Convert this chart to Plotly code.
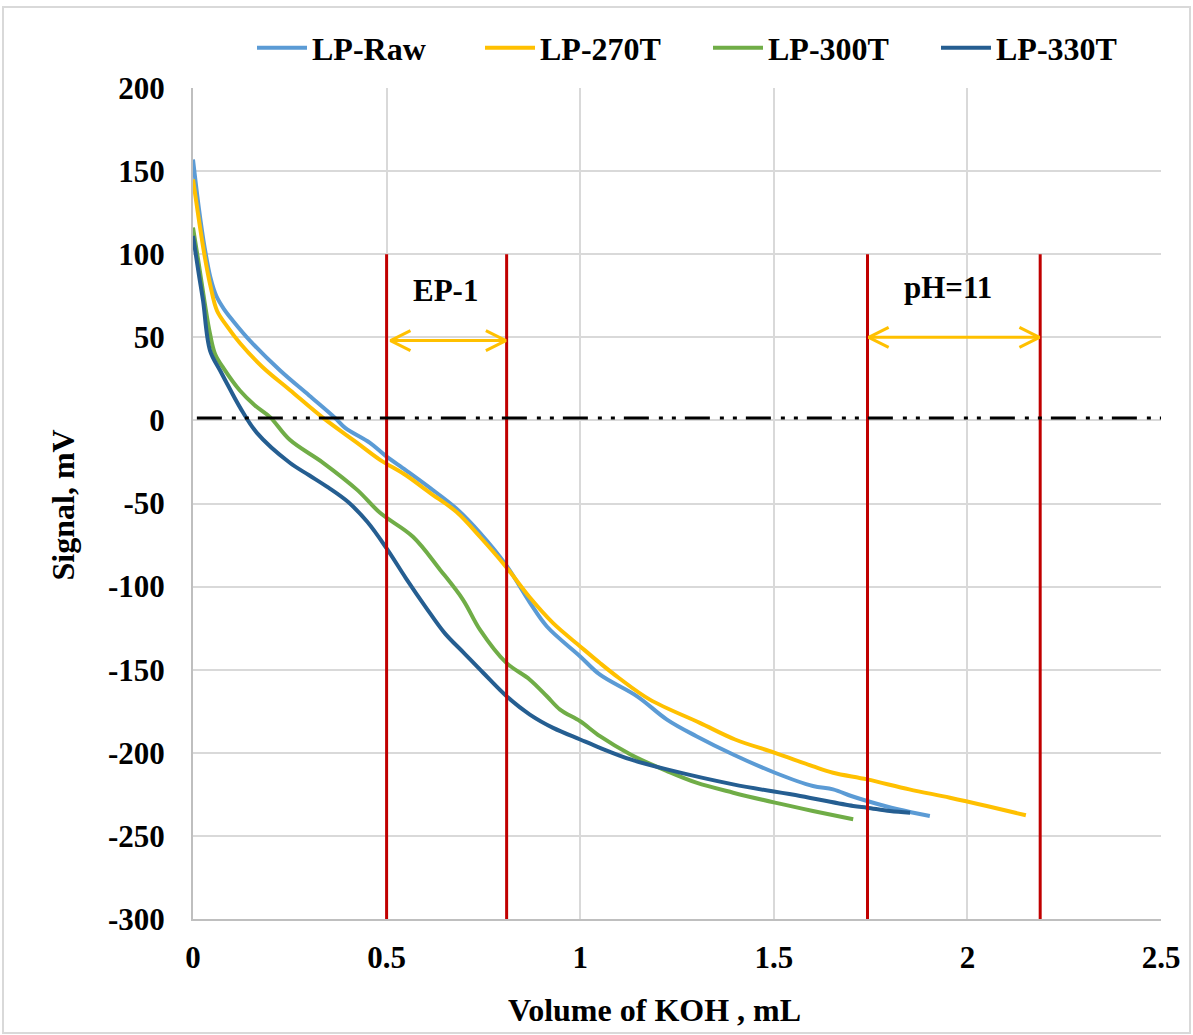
import plotly.graph_objects as go

# ---------------- data ----------------
raw_x = [0, 0.015, 0.03, 0.045, 0.06, 0.08, 0.103, 0.147, 0.225, 0.30, 0.367, 0.393, 0.457, 0.496,
         0.55, 0.612, 0.68, 0.741, 0.808, 0.870, 0.914, 1.0, 1.051, 1.147, 1.224, 1.30, 1.395, 1.503,
         1.601, 1.653, 1.70, 1.741, 1.82, 1.903]
raw_y = [157, 128, 104, 86, 75, 67, 60, 48, 30, 15, 1.5, -4.5, -13.5, -21,
         -30, -40.6, -53, -67.6, -86.8, -109.6, -124, -142, -153, -166, -180, -190, -201, -212,
         -220, -222, -226, -229, -234, -238]

t270_x = [0, 0.015, 0.03, 0.045, 0.062, 0.09, 0.121, 0.18, 0.25, 0.336, 0.424, 0.483, 0.55, 0.612,
          0.68, 0.741, 0.808, 0.870, 0.93, 1.0, 1.051, 1.10, 1.18, 1.309, 1.40, 1.503, 1.60, 1.653,
          1.741, 1.85, 1.955, 2.05, 2.151]
t270_y = [145, 121, 99, 81, 66, 56, 46.6, 32, 18.3, 1.5, -13.5, -23.7, -33, -43.6,
          -55, -70, -88, -106.6, -122, -136, -146, -155, -168, -182, -192, -200, -208, -212,
          -216, -222, -227, -232, -237.6]

t300_x = [0, 0.015, 0.03, 0.044, 0.057, 0.08, 0.121, 0.16, 0.199, 0.25, 0.336, 0.424, 0.483, 0.568,
          0.638, 0.697, 0.741, 0.808, 0.870, 0.914, 0.948, 1.0, 1.051, 1.13, 1.224, 1.30, 1.395,
          1.503, 1.601, 1.705]
t300_y = [116, 94, 71, 52, 40, 31, 18, 9, 2, -11.7, -25.5, -41.8, -55.6, -70,
          -89.8, -107.8, -125.9, -145.6, -156, -166, -174, -181, -190, -201, -211, -218, -224,
          -230, -235, -240]

t330_x = [0, 0.015, 0.026, 0.044, 0.07, 0.095, 0.121, 0.165, 0.25, 0.30, 0.35, 0.40, 0.45, 0.50,
          0.55, 0.60, 0.65, 0.70, 0.75, 0.81, 0.87, 0.93, 1.0, 1.051, 1.13, 1.224, 1.395, 1.568,
          1.705, 1.741, 1.80, 1.852]
t330_y = [111, 88, 72, 42, 30, 19, 8, -7.5, -25.5, -33, -40.5, -49, -61, -77,
          -95, -112, -128, -140, -152, -166, -177, -185, -192, -197, -204, -210, -219, -226,
          -232, -233, -235, -236]

series_names = ["LP-Raw", "LP-270T", "LP-300T", "LP-330T"]
series_x = [raw_x, t270_x, t300_x, t330_x]
series_y = [raw_y, t270_y, t300_y, t330_y]
series_colors = ["#5B9BD5", "#FFC000", "#70AD47", "#255E91"]

marker_lines_x = [0.5, 0.81, 1.742, 2.188]   # red vertical lines
marker_line_top = 100
baseline_y = 1.5                              # dash-dot reference line

arrow_ranges = [(0.51, 0.808), (1.745, 2.186)]
arrow_y = [48, 50]
arrow_labels = ["EP-1", "pH=11"]
label_x = [0.653, 1.95]
label_y = [78, 80]

x_ticks = [0, 0.5, 1, 1.5, 2, 2.5]
y_ticks = [200, 150, 100, 50, 0, -50, -100, -150, -200, -250, -300]
x_range = [0, 2.5]
y_range = [-300, 200]

# ---------------- figure ----------------
FONT = "Liberation Serif"
BOLD = dict(family=FONT, size=32, color="black", weight="bold")
TICK = dict(family=FONT, size=31, color="black", weight="bold")
fig = go.Figure()

for name, xs, ys, col in zip(series_names, series_x, series_y, series_colors):
    fig.add_trace(go.Scatter(x=xs, y=ys, mode="lines", name=name,
                             line=dict(color=col, width=4, shape="spline", smoothing=1.0)))

# red vertical lines
for mx in marker_lines_x:
    fig.add_trace(go.Scatter(x=[mx, mx], y=[marker_line_top, y_range[0]], mode="lines",
                             line=dict(color="#C00000", width=3), showlegend=False, hoverinfo="skip"))

# dash-dot baseline
fig.add_trace(go.Scatter(x=[0.01, x_range[1]], y=[baseline_y, baseline_y], mode="lines",
                         line=dict(color="black", width=3, dash="25px,10px,4px,9px,4px,9px"),
                         showlegend=False, hoverinfo="skip"))

# double-headed arrows (open chevron heads)
plot_w_px, plot_h_px = 968, 831
head_dx = 20 * (x_range[1] - x_range[0]) / plot_w_px
head_dy = 10 * (y_range[1] - y_range[0]) / plot_h_px
for (xa, xb), ay in zip(arrow_ranges, arrow_y):
    fig.add_trace(go.Scatter(x=[xa, xb], y=[ay, ay], mode="lines",
                             line=dict(color="#FFC000", width=3), showlegend=False, hoverinfo="skip"))
    fig.add_trace(go.Scatter(x=[xa + head_dx, xa, xa + head_dx], y=[ay + head_dy, ay, ay - head_dy],
                             mode="lines", line=dict(color="#FFC000", width=3),
                             showlegend=False, hoverinfo="skip"))
    fig.add_trace(go.Scatter(x=[xb - head_dx, xb, xb - head_dx], y=[ay + head_dy, ay, ay - head_dy],
                             mode="lines", line=dict(color="#FFC000", width=3),
                             showlegend=False, hoverinfo="skip"))

for txt, lx, ly in zip(arrow_labels, label_x, label_y):
    fig.add_annotation(x=lx, y=ly, text=txt, showarrow=False, font=TICK)

# axis titles as annotations
fig.add_annotation(xref="paper", yref="paper", x=0.477, y=-0.1095, text="Volume of KOH , mL",
                   showarrow=False, font=BOLD, yanchor="middle")
fig.add_annotation(xref="paper", yref="paper", x=-0.134, y=0.498, text="Signal, mV",
                   textangle=-90, showarrow=False, font=BOLD,
                   xanchor="center", yanchor="middle")

# outer chart border
fig.add_shape(type="rect", xref="paper", yref="paper",
              x0=(3 - 193) / 968, x1=(1190 - 193) / 968,
              y0=(919 - 1033) / 831, y1=(919 - 7) / 831,
              line=dict(color="#D9D9D9", width=2), layer="below")

fig.update_layout(
    width=1193, height=1035,
    margin=dict(l=193, r=32, t=88, b=116, autoexpand=False),
    paper_bgcolor="white", plot_bgcolor="white",
    font=BOLD,
    showlegend=True,
    legend=dict(orientation="h", x=(252 - 193) / 968, xanchor="left",
                y=(919 - 48) / 831, yanchor="middle",
                font=BOLD, itemwidth=50,
                entrywidth=163, entrywidthmode="pixels", bgcolor="rgba(0,0,0,0)"),
)

fig.update_xaxes(range=x_range, tickvals=x_ticks, ticktext=[("%g" % v) for v in x_ticks],
                 showgrid=True, gridcolor="#D9D9D9", gridwidth=2,
                 showline=True, linecolor="#BFBFBF", linewidth=2, zeroline=False,
                 ticks="outside", ticklen=10, tickcolor="rgba(0,0,0,0)",
                 tickfont=TICK)
fig.update_yaxes(range=y_range, tickvals=y_ticks, ticktext=[("%g" % v) for v in y_ticks],
                 showgrid=True, gridcolor="#D9D9D9", gridwidth=2,
                 showline=True, linecolor="#BFBFBF", linewidth=2, zeroline=False,
                 ticks="outside", ticklen=20, tickcolor="rgba(0,0,0,0)",
                 tickfont=TICK)

fig.write_html("out.html")
